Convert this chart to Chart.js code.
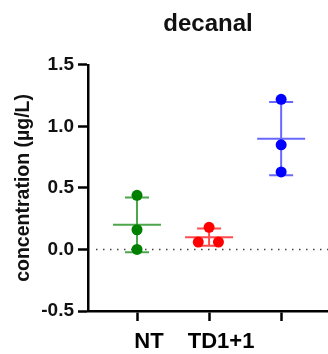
<!DOCTYPE html>
<html>
<head>
<meta charset="utf-8">
<script src="https://cdn.jsdelivr.net/npm/chart.js@4"></script>
<style>
    body { margin: 0; background: #ffffff; }
    #chart { display: block; }
</style>
</head>
<body>
<canvas id="chart" width="328" height="354"></canvas>
<script>
// ============================================
// DATA
// ============================================
const groups = ['NT', 'TD1+1', ''];
const groupColors = ['#008000', '#ff0000', '#0000ff'];
const barColors = ['rgba(0,128,0,0.7)', 'rgba(255,0,0,0.7)', 'rgba(40,40,255,0.7)'];

const ntValues = [0.44, 0.16, 0.0];
const td11Values = [0.18, 0.06, 0.06];
const thirdValues = [1.22, 0.85, 0.63];

// horizontal scatter of overlapping points (in group units)
const ntJitter = [0, 0, 0];
const td11Jitter = [0, -0.15, 0.13];
const thirdJitter = [0, 0, 0];

const yTicks = [-0.5, 0.0, 0.5, 1.0, 1.5];

const allValues = [ntValues, td11Values, thirdValues];
const allJitter = [ntJitter, td11Jitter, thirdJitter];

const FONT = 'Liberation Sans, Arial, sans-serif';

// ============================================
// HELPERS
// ============================================
function mean(arr) {
    return arr.reduce((s, v) => s + v, 0) / arr.length;
}

function sd(arr) {
    const m = mean(arr);
    return Math.sqrt(arr.reduce((s, v) => s + (v - m) * (v - m), 0) / (arr.length - 1));
}

// mean line + SD bars, drawn under the dots
const errorBars = {
    id: 'errorBars',
    beforeDatasetsDraw(chart) {
        const ctx = chart.ctx;
        const xs = chart.scales.x;
        const ys = chart.scales.y;
        ctx.save();
        allValues.forEach((vals, i) => {
            const m = mean(vals);
            const s = sd(vals);
            const px = xs.getPixelForValue(i + 1);
            const pm = ys.getPixelForValue(m);
            const pt = ys.getPixelForValue(m + s);
            const pb = ys.getPixelForValue(m - s);
            ctx.strokeStyle = barColors[i];
            ctx.lineWidth = 2;
            ctx.beginPath();
            ctx.moveTo(px, pt); ctx.lineTo(px, pb);
            ctx.moveTo(px - 12, pt); ctx.lineTo(px + 12, pt);
            ctx.moveTo(px - 12, pb); ctx.lineTo(px + 12, pb);
            ctx.moveTo(px - 24, pm); ctx.lineTo(px + 24, pm);
            ctx.stroke();
        });
        ctx.restore();
    }
};

// dotted reference line at zero
const zeroLine = {
    id: 'zeroLine',
    beforeDatasetsDraw(chart) {
        const ctx = chart.ctx;
        const area = chart.chartArea;
        const y = chart.scales.y.getPixelForValue(0);
        ctx.save();
        ctx.strokeStyle = '#444444';
        ctx.lineWidth = 1.5;
        ctx.setLineDash([1.5, 5.5]);
        ctx.beginPath();
        ctx.moveTo(area.left + 8, y);
        ctx.lineTo(area.right, y);
        ctx.stroke();
        ctx.restore();
    }
};

// ============================================
// CHART
// ============================================
const datasets = allValues.map((vals, i) => ({
    label: groups[i],
    data: vals.map((v, j) => ({ x: i + 1 + allJitter[i][j], y: v })),
    backgroundColor: groupColors[i],
    borderWidth: 0,
    pointRadius: 5.5,
}));

new Chart(document.getElementById('chart'), {
    type: 'scatter',
    data: { datasets: datasets },
    plugins: [zeroLine, errorBars],
    options: {
        responsive: false,
        devicePixelRatio: 1,
        animation: false,
        layout: { padding: 0, autoPadding: false },
        plugins: {
            legend: { display: false },
            tooltip: { enabled: false },
            title: {
                display: true,
                text: 'decanal',
                fullSize: false,
                color: '#111111',
                font: { family: FONT, size: 24, weight: 'bold' },
                padding: { top: 10, bottom: 26 },
            }
        },
        scales: {
            x: {
                type: 'linear',
                min: 0.32,
                max: 3.65,
                afterBuildTicks: (scale) => {
                    scale.ticks = groups.map((g, i) => ({ value: i + 1 }));
                },
                afterFit: (scale) => {
                    scale.height = 43;
                    scale.paddingRight = 0;
                    scale.paddingLeft = 0;
                },
                border: { display: true, color: '#000000', width: 2.5 },
                grid: { drawOnChartArea: false, drawTicks: true, tickLength: 10, tickWidth: 2.5, color: '#000000' },
                ticks: {
                    color: '#000000',
                    padding: 8,
                    labelOffset: 12,
                    autoSkip: false,
                    maxRotation: 0,
                    font: { family: FONT, size: 22, weight: 'bold' },
                    callback: (v) => groups[Math.round(v) - 1] ?? '',
                }
            },
            y: {
                min: -0.5,
                max: 1.5,
                afterBuildTicks: (scale) => {
                    scale.ticks = yTicks.map(v => ({ value: v }));
                },
                afterFit: (scale) => { scale.width = 88; },
                border: { display: true, color: '#000000', width: 2.5 },
                grid: { drawOnChartArea: false, drawTicks: true, tickLength: 10, tickWidth: 2.5, color: '#000000' },
                ticks: {
                    color: '#111111',
                    padding: 4,
                    font: { family: FONT, size: 19, weight: 'bold' },
                    callback: (v) => v.toFixed(1),
                },
                title: {
                    display: true,
                    text: 'concentration (µg/L)',
                    color: '#111111',
                    font: { family: FONT, size: 19.5, weight: 'bold' },
                    padding: { top: 12, bottom: 0 },
                }
            }
        }
    }
});
</script>
</body>
</html>
